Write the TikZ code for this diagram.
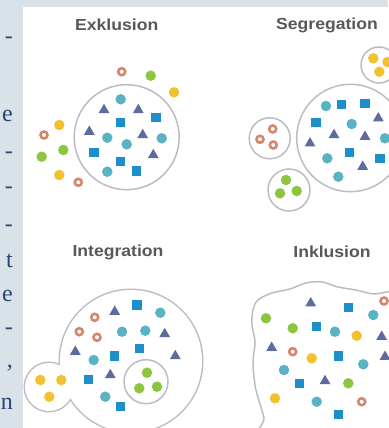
\documentclass[tikz,border=0pt]{standalone}
\usepackage{fontspec}
\usepackage{xcolor}
\usepackage{tikz}
\usetikzlibrary{shapes.geometric}
\newfontfamily\headfont[FakeStretch=1.1]{Liberation Sans}
\newfontfamily\pagefont{Liberation Serif}

\definecolor{pagetint}{HTML}{D9E1E9}
\definecolor{inkblue}{HTML}{2A4575}
\definecolor{titlegrey}{HTML}{585858}
\definecolor{groupgrey}{HTML}{BDBCC2}
\definecolor{tealdot}{HTML}{5AB3C4}
\definecolor{sqblue}{HTML}{1C8FCB}
\definecolor{triblue}{HTML}{5D6B9E}
\definecolor{ringbrown}{HTML}{D4876A}
\definecolor{yellowdot}{HTML}{F2C12E}
\definecolor{greendot}{HTML}{8CC63F}

\begin{document}
\begin{tikzpicture}[x=1pt, y=-1pt,
  dot/.style={circle, fill=#1, minimum size=10.5pt, inner sep=0pt},
  sq/.style={rectangle, fill=sqblue, minimum size=9.5pt, inner sep=0pt},
  tri/.style={regular polygon, regular polygon sides=3, fill=triblue, minimum size=12.5pt, inner sep=0pt},
  ring/.style={circle, draw=ringbrown, line width=2.6pt, fill=white, minimum size=7pt, inner sep=0pt},
  group/.style={draw=groupgrey, line width=1.5pt, fill=white},
  title/.style={font=\headfont\bfseries\fontsize{16}{19}\selectfont, text=titlegrey},
  margin/.style={font=\pagefont\fontsize{24}{29}\selectfont, text=inkblue, anchor=base east, inner sep=0pt}
]
\useasboundingbox (0,0) rectangle (388,428);
\fill[pagetint] (0,0) rectangle (388,428);
\fill[white] (22.7,7) rectangle (388,428);

% text column at the left
\foreach \y/\t [count=\i] in {44/-, 121/e, 158/-, 193/-, 231/-, 267/t, 301/e, 334/-, 367/{,}, 409/n}
  \node[margin] (m\i) at (13,\y) {\t};

% Exklusion
\node[title] (exhead) at (116.7,25) {Exklusion};
\draw[group] (126.7,137.2) circle[radius=52.5];
\foreach \x/\y [count=\i] in {120.7/99.3, 107.3/137.7, 161.7/138.3, 126.7/144.3, 107.3/171.7}
  \node[dot=tealdot] (ext\i) at (\x,\y) {};
\foreach \x/\y [count=\i] in {120.7/122.7, 156/117.7, 94/152.3, 120.7/161.7, 136.7/171}
  \node[sq] (exs\i) at (\x,\y) {};
\foreach \x/\y [count=\i] in {104/110, 138.3/110, 89.3/131.7, 142.7/135, 153.3/155}
  \node[tri] (exa\i) at (\x,\y) {};
\foreach \x/\y [count=\i] in {121.7/71.7, 44/135, 78.3/182.3}
  \node[ring] (exr\i) at (\x,\y) {};
\foreach \x/\y [count=\i] in {150.7/75.7, 63.3/150, 41.7/156.7}
  \node[dot=greendot] (exg\i) at (\x,\y) {};
\foreach \x/\y [count=\i] in {174/92.3, 59.3/125, 59.3/175}
  \node[dot=yellowdot] (exy\i) at (\x,\y) {};

% Segregation
\node[title] (sghead) at (327,25) {Segregation};
\draw[group] (350.4,138) circle[radius=53.7];
\draw[group] (269.7,138.3) circle[radius=20.5];
\draw[group] (289,190) circle[radius=21];
\draw[group] (379,65) circle[radius=18];
\foreach \x/\y [count=\i] in {326/106, 351.7/124, 385/138.3, 327.3/158.3, 338.3/176.7}
  \node[dot=tealdot] (sgt\i) at (\x,\y) {};
\foreach \x/\y [count=\i] in {341.7/104.3, 365/103.3, 316/122.3, 349.3/152.3, 380/158.3}
  \node[sq] (sgs\i) at (\x,\y) {};
\foreach \x/\y [count=\i] in {378.3/118.3, 334/135, 365/136.7, 310/143.3, 362.7/166.7}
  \node[tri] (sga\i) at (\x,\y) {};
\foreach \x/\y [count=\i] in {272.7/129, 260/139.3, 273.3/145}
  \node[ring] (sgr\i) at (\x,\y) {};
\foreach \x/\y [count=\i] in {286/180, 280/193.3, 296.7/191}
  \node[dot=greendot] (sgg\i) at (\x,\y) {};
\foreach \x/\y [count=\i] in {373.3/58.3, 379.3/71.7, 387.5/62}
  \node[dot=yellowdot] (sgy\i) at (\x,\y) {};

% Integration
\node[title] (ighead) at (118,252) {Integration};
\draw[groupgrey, line width=3pt] (131,361) circle[radius=71] (49,387) circle[radius=24];
\fill[white] (131,361) circle[radius=71] (49,387) circle[radius=24];
\draw[group] (146,381.7) circle[radius=22];
\foreach \x/\y [count=\i] in {160.3/312.7, 122/331.7, 145.3/330.7, 93.7/360, 105.3/396.7}
  \node[dot=tealdot] (igt\i) at (\x,\y) {};
\foreach \x/\y [count=\i] in {137/305, 114.7/356, 139.3/348.3, 88.7/379.3, 120.3/406.7}
  \node[sq] (igs\i) at (\x,\y) {};
\foreach \x/\y [count=\i] in {114.7/311.7, 164.7/334, 75.3/351.7, 175.3/356, 110.3/375}
  \node[tri] (iga\i) at (\x,\y) {};
\foreach \x/\y [count=\i] in {94.7/317.3, 79.3/331.7, 97/337.3}
  \node[ring] (igr\i) at (\x,\y) {};
\foreach \x/\y [count=\i] in {147/372.7, 139.3/388.3, 157/386.7}
  \node[dot=greendot] (igg\i) at (\x,\y) {};
\foreach \x/\y [count=\i] in {40.3/380, 61.3/380, 49.3/396.7}
  \node[dot=yellowdot] (igy\i) at (\x,\y) {};

% Inklusion
\node[title] (ikhead) at (332,252) {Inklusion};
\draw[group] plot[smooth cycle, tension=0.6] coordinates {
  (258,300) (272,293) (290,289) (306,283) (322,282) (338,287) (356,290)
  (374,294) (392,292) (420,300) (420,445) (268,445) (264,418) (259,401)
  (255,385) (253,362) (255,342) (252,325) (253,310)};
\foreach \x/\y [count=\i] in {373.3/315, 335/331.7, 363.3/364.3, 284/370, 316.7/401.7}
  \node[dot=tealdot] (ikt\i) at (\x,\y) {};
\foreach \x/\y [count=\i] in {348.3/307.7, 316.7/326.7, 338.3/356, 299.3/383.3, 338.3/414.3}
  \node[sq] (iks\i) at (\x,\y) {};
\foreach \x/\y [count=\i] in {310.7/303.3, 381.7/336.7, 271.7/347.7, 385/356.7, 325/381}
  \node[tri] (ika\i) at (\x,\y) {};
\foreach \x/\y [count=\i] in {384/301, 292.7/351.7, 361.7/401.7}
  \node[ring] (ikr\i) at (\x,\y) {};
\foreach \x/\y [count=\i] in {266/318.3, 292.7/328.3, 348.3/383.3}
  \node[dot=greendot] (ikg\i) at (\x,\y) {};
\foreach \x/\y [count=\i] in {356.7/335.7, 311.7/358.3, 275/398.3}
  \node[dot=yellowdot] (iky\i) at (\x,\y) {};
\end{tikzpicture}
\end{document}
